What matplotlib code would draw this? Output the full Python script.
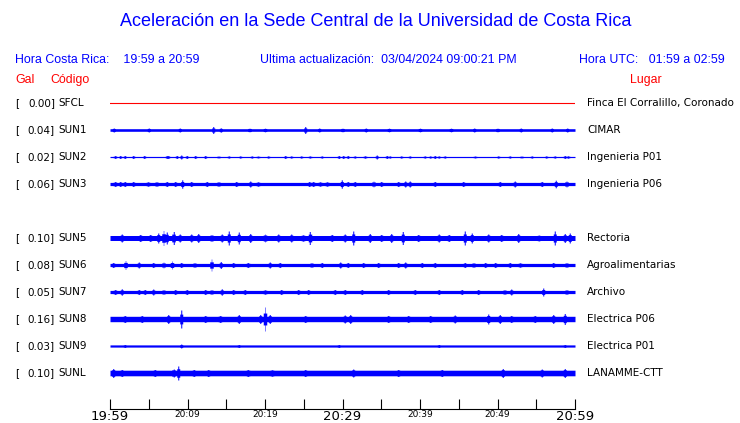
import numpy as np
import matplotlib
matplotlib.use("Agg")
import matplotlib.pyplot as plt

# station info, top to bottom (row 4 is left empty like on the web page)
codes = ['SFCL', 'SUN1', 'SUN2', 'SUN3', 'SUN5', 'SUN6', 'SUN7', 'SUN8', 'SUN9', 'SUNL']
places = ['Finca El Corralillo, Coronado', 'CIMAR', 'Ingenieria P01', 'Ingenieria P06',
          'Rectoria', 'Agroalimentarias', 'Archivo', 'Electrica P06', 'Electrica P01', 'LANAMME-CTT']
gal = [0.00, 0.04, 0.02, 0.06, 0.10, 0.08, 0.05, 0.16, 0.03, 0.10]
rows = [0, 1, 2, 3, 5, 6, 7, 8, 9, 10]

# background noise half-width of each trace (pixels)
base = [0.0, 1.3, 0.6, 1.6, 2.5, 1.6, 1.6, 2.7, 1.1, 2.8]

# bursts: (minute after 19:59, half height in pixels)
bursts = {
    'SFCL': [],
    'SUN1': [(0.5, 2), (5, 2), (9, 2), (13.3, 3.5), (14.3, 2.2), (18, 2), (20, 2), (25.2, 3.5),
             (27, 2), (30, 2), (33, 2), (36, 2), (40, 2), (44, 2), (47, 2), (50, 2), (53, 2),
             (57, 2), (59, 2)],
    'SUN2': [(0.65, 1.5), (1.3, 1.5), (1.9, 1.5), (3.0, 1.5), (4.4, 1.5), (7.3, 1.5), (7.5, 1.5),
             (8.6, 1.5), (9.2, 2), (9.9, 1.5), (11.0, 1.5), (12.3, 1.5), (14.0, 1.2), (15.3, 1.2),
             (16.8, 1.2), (18.3, 1.2), (19.1, 1.2), (20.4, 1.2), (22.6, 1.5), (23.4, 1.2),
             (24.7, 1.2), (25.8, 1.2), (27.3, 1.2), (29.5, 1.5), (30.1, 1.5), (30.7, 1.5),
             (31.6, 1.2), (32.9, 1.5), (34.4, 2), (35.7, 1.5), (36.1, 1.2), (37.6, 1.2),
             (38.7, 1.2), (40.6, 1.2), (41.3, 1.2), (41.9, 1.5), (42.4, 1.2), (43.2, 1.2),
             (47.1, 1.2), (50.1, 1.2), (51.6, 1.2), (53.1, 1.2), (54.4, 1.2), (56.3, 1.2),
             (57.4, 1.2), (58.7, 1.5), (59.1, 1.5)],
    'SUN3': [(0.65, 2.5), (1.3, 2.5), (1.9, 2.5), (3.0, 2.5), (4.9, 2.5), (6.0, 2.5), (7.3, 2.5),
             (8.4, 2.5), (9.3, 4.2), (10.5, 2.5), (12.5, 2.5), (14.0, 2.5), (16.3, 2.5),
             (18.1, 3), (19.1, 2.5), (25.7, 2.5), (26.2, 2.5), (27.1, 2.5), (28.0, 2.5),
             (29.9, 4.2), (30.7, 2.5), (31.6, 2.5), (34.0, 3), (35.0, 2.5), (37.2, 2.5),
             (38.1, 3), (38.7, 3), (41.9, 2.5), (45.6, 2.5), (50.3, 2.5), (52.2, 3), (55.7, 2.5),
             (57.5, 3.8), (58.9, 3.2)],
    'SUN5': [(1.5, 4), (3.9, 3.5), (5.2, 3.5), (6.2, 5), (6.9, 7.5), (7.3, 6), (8.2, 6.5),
             (9.0, 4), (10.5, 4), (11.4, 4.5), (13.1, 3.5), (14.4, 4), (15.3, 7), (16.6, 6),
             (18.1, 4.5), (20.0, 4), (21.7, 4), (23.4, 4), (24.9, 3.5), (25.8, 6.5), (28.6, 3.5),
             (30.3, 4), (31.4, 7), (33.5, 4.5), (35.0, 3.5), (36.3, 4.5), (37.8, 6.5),
             (39.8, 3.5), (42.4, 4), (43.7, 3.5), (45.8, 7), (46.7, 5), (48.8, 4), (50.5, 3.5),
             (52.7, 4.5), (55.3, 3), (57.4, 7), (58.7, 4.5), (59.3, 5)],
    'SUN6': [(0.4, 2.5), (2.0, 4.5), (3.7, 3), (5.6, 2.5), (6.9, 3), (8.0, 4), (9.2, 2.5),
             (10.9, 2.5), (13.1, 6), (14.3, 3.5), (15.9, 2.5), (17.8, 2.5), (20.6, 3),
             (21.9, 2.5), (26.0, 2.5), (27.3, 2.5), (29.7, 3), (30.7, 2.5), (32.7, 2.5),
             (34.6, 2.5), (37.2, 2.5), (38.1, 3), (40.2, 2.5), (41.9, 2.5), (45.8, 2.5),
             (46.9, 2.5), (48.4, 2.5), (49.7, 2.5), (51.6, 2.5), (52.9, 2.5), (57.2, 2.5),
             (58.9, 2.5)],
    'SUN7': [(0.65, 2.5), (1.5, 3.2), (3.7, 2.5), (4.5, 2.5), (5.6, 3), (6.9, 2.5), (8.4, 2.5),
             (9.9, 2.5), (12.3, 2.5), (13.1, 2.5), (14.4, 3.2), (15.9, 2.5), (17.4, 2.5),
             (20.0, 2.5), (22.1, 2.5), (24.3, 2.5), (25.6, 2.5), (29.0, 2.5), (30.3, 2.5),
             (32.5, 2.5), (35.9, 2.5), (39.3, 2.5), (42.4, 2.5), (45.4, 2.5), (47.5, 2.5),
             (50.9, 2.5), (51.8, 3), (55.9, 4), (58.9, 2.5)],
    'SUN8': [(1.9, 3.5), (4.1, 3.5), (7.5, 4.5), (9.2, 9), (12.3, 3.5), (14.2, 3.5), (16.6, 4.5),
             (19.4, 4.5), (20.0, 12), (20.6, 4.5), (25.2, 3.5), (30.3, 4), (31.0, 4.5),
             (35.9, 3.5), (38.5, 3.5), (41.3, 3.5), (44.5, 4), (48.8, 5), (50.3, 4.5),
             (51.8, 3.5), (54.8, 3.5), (57.2, 4.5), (58.7, 5.5)],
    'SUN9': [(1.9, 1.5), (9.2, 2), (16.6, 1.5), (29.5, 1.5), (42.4, 1.5), (58.7, 1.5)],
    'SUNL': [(0.4, 4.5), (1.5, 3.5), (5.8, 3.5), (8.2, 4), (8.8, 7), (10.8, 3.5), (12.7, 3.5),
             (17.8, 3.5), (20.9, 3.5), (25.2, 3.5), (31.4, 4), (37.2, 3.5), (42.8, 3.5),
             (50.7, 4.5), (55.7, 4), (58.7, 4.5)],
}

tick_minutes = np.arange(0, 61, 5)
tick_labels = ['19:59', '', '20:09', '', '20:19', '', '20:29', '', '20:39', '', '20:49', '', '20:59']

fig = plt.figure(figsize=(7.4, 4.23), dpi=100)
W, H = 740, 423

# traces axes: x in minutes, y in rows (27 px per row)
ax = fig.add_axes([110 / W, (H - 409) / H, 465 / W, (409 - 90) / H])
px = 1 / 27.0
ax.set_xlim(0, 60)
ax.set_ylim((409 - 103) / 27.0, (90 - 103) / 27.0)

t = np.linspace(0, 60, 931)
for code, row, b in zip(codes, rows, base):
    if code == 'SFCL':
        ax.plot([0, 60], [row, row], color='red', lw=0.8)
        continue
    env = np.full_like(t, b)
    for m, h in bursts[code]:
        # blocky burst: full height at the centre, a bit lower on its shoulders
        env = np.where(np.abs(t - m) < 0.06, np.maximum(env, h), env)
        env = np.where(np.abs(t - m) < 0.2, np.maximum(env, 0.35 * h + 0.65 * b), env)
    ax.fill_between(t, row - env * px, row + env * px, color='blue', lw=0,
                    step='mid', antialiased=False)

for s in ['top', 'left', 'right']:
    ax.spines[s].set_visible(False)
ax.spines['bottom'].set_linewidth(0.8)
ax.set_yticks([])
ax.set_xticks(tick_minutes)
ax.set_xticklabels(tick_labels)
ax.tick_params(axis='x', direction='in', length=7, width=0.8, pad=1, labelsize=6.5)
for lab in ax.get_xticklabels():
    if lab.get_text() in ('19:59', '20:29', '20:59'):
        lab.set_fontsize(9.5)

# header texts (pixel positions converted to figure fractions)
def ftext(x, y, s, **kw):
    fig.text(x / W, 1 - y / H, s, va='center', **kw)

ftext(376, 22, 'Aceleración en la Sede Central de la Universidad de Costa Rica',
      ha='center', color='blue', fontsize=13, family='Liberation Sans')
ftext(15, 60, 'Hora Costa Rica:    19:59 a 20:59', color='blue', fontsize=8.9, family='Liberation Sans')
ftext(260, 60, 'Ultima actualización:  03/04/2024 09:00:21 PM', color='blue', fontsize=8.9,
      family='Liberation Sans')
ftext(725, 60, 'Hora UTC:   01:59 a 02:59', ha='right', color='blue', fontsize=8.9,
      family='Liberation Sans')
ftext(15, 80, 'Gal', color='red', fontsize=8.9, family='Liberation Sans')
ftext(50, 80, 'Código', color='red', fontsize=8.9, family='Liberation Sans')
ftext(630, 80, 'Lugar', color='red', fontsize=8.9, family='Liberation Sans')

# station labels on both sides
for code, place, g, row in zip(codes, places, gal, rows):
    y = 103 + 27 * row
    ftext(15, y, '[', fontsize=7.5, color='black')
    ftext(55, y, '%.2f]' % g, ha='right', fontsize=7.5, color='black')
    ftext(58, y, code, fontsize=7.5, color='black')
    ftext(587, y, place, fontsize=7.5, color='black')

fig.savefig('out.png', dpi=100)
